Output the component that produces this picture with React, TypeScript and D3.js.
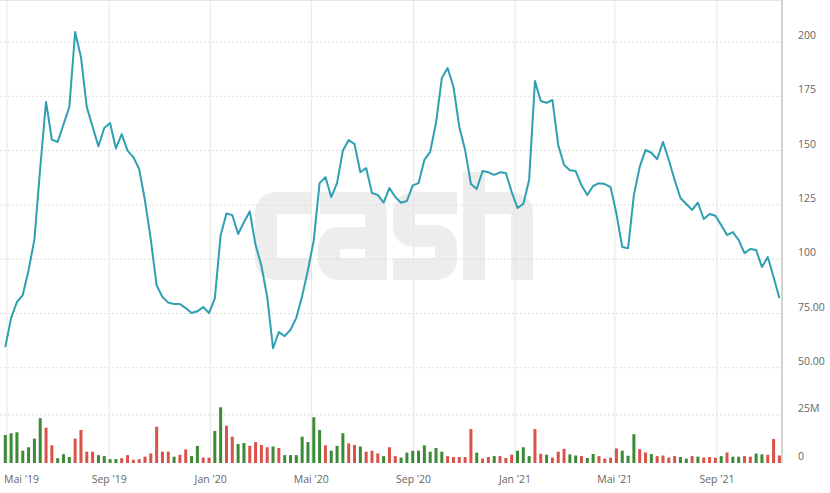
import React from 'react';
import * as d3 from 'd3';

// weekly closes, starting Monday 29 Apr 2019
const startDate = new Date(2019, 3, 29);
const endDate = new Date(2021, 10, 15);

const prices: number[] = [
  59.6, 73, 80.3, 83.5, 95, 109, 142, 172.4, 155, 154,
  162, 170, 204.6, 193, 170, 161, 152, 160.4, 162.7, 151,
  157.6, 150, 147, 141.5, 127, 109, 88, 82.6, 80, 79.4,
  79.4, 77.5, 75.2, 76, 78, 75.2, 82, 111, 121, 120.3,
  111.6, 117, 122, 106.5, 97, 82.6, 59, 66.5, 64.6, 67.5,
  73, 83, 95, 108.8, 135, 137.8, 128.6, 135, 150, 154.9,
  153, 140, 142, 130.5, 129.6, 126, 132.8, 128.6, 126, 126.8,
  134, 135, 145.7, 149.4, 162.7, 183.4, 188, 179.3, 161, 150.3,
  134.6, 132.3, 140.6, 140, 138.8, 140, 139.7, 131, 123.6, 125.4,
  136.5, 182, 172.8, 172, 173.3, 152.6, 143.4, 141, 140.6, 134,
  129.6, 133.7, 135, 134.6, 133.2, 121, 105.6, 105, 129.6, 142.5,
  150.3, 149, 146, 154, 145.7, 136.5, 128.2, 125.4, 122.7, 126,
  118.5, 120.8, 120, 115.7, 111.1, 112.5, 108.8, 102.8, 104.7, 104.2,
  96.4, 101, 91.8, 82,
];

// volume in millions
const volumes: number[] = [
  14.6, 15.5, 16, 6.4, 8.2, 12.7, 23.3, 18.4, 9.2, 2.5,
  4.6, 3.1, 12.7, 17.2, 5.9, 5.9, 4.1, 3.6, 2, 2,
  2.5, 4.1, 1.7, 2, 3.3, 5, 18.9, 5.9, 5.9, 3.3,
  4.3, 7.1, 3.6, 8.9, 2.8, 2.8, 16.7, 29, 19.4, 13.7,
  9.9, 10.4, 9, 10.9, 9.4, 8.2, 8.6, 7.8, 4.1, 4.1,
  4.1, 13.7, 10.9, 23.8, 17.2, 9.2, 6.4, 8.9, 15.5, 10.2,
  9.4, 8.6, 5.9, 6.4, 5, 3.6, 8.2, 3.6, 2.8, 5.4,
  6.4, 6.4, 9.2, 5.9, 7.8, 5.9, 3.6, 3.1, 3.1, 3.1,
  17.7, 5.4, 2.3, 3.1, 3.6, 3.6, 2.6, 4.3, 6.4, 8.2,
  3.6, 17.7, 4.8, 4.3, 2.8, 5.9, 7.4, 4.5, 3.9, 3.6,
  2.6, 4.7, 3.6, 2.3, 2.8, 7.6, 6.4, 3.8, 15, 7.2,
  5.5, 4.7, 3.6, 3.9, 2.8, 3.6, 3.1, 2.3, 3.6, 3.3,
  2.8, 3.1, 2.8, 3.6, 5.5, 3.3, 3.3, 3.6, 3.3, 4.9,
  4.5, 4.3, 12.5, 3.9,
];

// g = up week, r = down week (rows of ten, same as volumes)
const volumeColors: string[] = [
  'gggggggrrg',
  'ggrrrrgggg',
  'rrrrrrrrrg',
  'rrggrrggrr',
  'ggrrrrgrgg',
  'gggggrgggr',
  'rgrrrgrrgg',
  'ggggggrrrr',
  'rgrrgrrrgg',
  'grrgrrrggr',
  'ggrrrrgggr',
  'rgrrrrggrg',
  'rrrgrggrrg',
  'grrr',
].join('').split('');

const priceTicks = [50, 75, 100, 125, 150, 175, 200];
const priceTickLabels = ['50.00', '75.00', '100', '125', '150', '175', '200'];
const volumeTicks = [0, 25];
const volumeTickLabels = ['0', '25M'];
const monthTicks = [
  new Date(2019, 4, 1), new Date(2019, 8, 1), new Date(2020, 0, 1), new Date(2020, 4, 1),
  new Date(2020, 8, 1), new Date(2021, 0, 1), new Date(2021, 4, 1), new Date(2021, 8, 1),
];
const monthTickLabels = ["Mai '19", "Sep '19", "Jan '20", "Mai '20", "Sep '20", "Jan '21", "Mai '21", "Sep '21"];

const width = 830;
const height = 493;
const axisX = 782;
const font = '"Open Sans", "DejaVu Sans", sans-serif';

// "cash" logo watermark, drawn as thick rounded strokes
const logoStrokes = [
  'M 312 203 H 277 Q 266 203 266 214 V 258 Q 266 269 277 269 H 312',
  'M 320 203 H 365 Q 376 203 376 214 V 280',
  'M 376 238 H 340 Q 329 238 329 249 V 258 Q 329 269 340 269 H 376',
  'M 457 203 H 415 Q 404 203 404 214 V 225 Q 404 236 415 236 H 435 Q 446 236 446 247 V 258 Q 446 269 435 269 H 393',
  'M 474 172 V 280',
  'M 474 203 H 511 Q 522 203 522 214 V 280',
];

const App: React.FC = () => {
  const dates = d3.timeMonday.range(startDate, d3.timeDay.offset(endDate, 1));

  const x = d3.scaleTime().domain([startDate, endDate]).range([5.3, 779.4]);
  const y = d3.scaleLinear().domain([50, 200]).range([367.8, 42]);
  const yVol = d3.scaleLinear().domain([0, 25]).range([463, 415]);

  const line = d3
    .line<number>()
    .x((_, i) => x(dates[i]))
    .y((d) => y(d));

  return (
    <svg
      width={width}
      height={height}
      style={{ position: 'absolute', left: 0, top: 0, display: 'block', background: '#fff' }}
    >
      {/* watermark */}
      <g fill="none" stroke="#ededed" strokeWidth={22} strokeLinejoin="round">
        {logoStrokes.map((d, i) => (
          <path key={i} d={d} />
        ))}
      </g>

      {/* top border */}
      <line x1={0} x2={axisX} y1={0.5} y2={0.5} stroke="#e6e6e6" />

      {/* vertical grid */}
      {monthTicks.map((d, i) => (
        <line key={i} x1={x(d)} x2={x(d)} y1={0} y2={463} stroke="#e6e6e6" strokeWidth={1} />
      ))}

      {/* price grid */}
      {priceTicks.map((t, i) => (
        <g key={i}>
          <line x1={0} x2={axisX} y1={y(t)} y2={y(t)} stroke="#dcdcdc" strokeDasharray="2,2" />
          <text x={798} y={y(t) - 3} fontSize={10.5} fontFamily={font} fill="#666">
            {priceTickLabels[i]}
          </text>
        </g>
      ))}

      {/* volume grid */}
      {volumeTicks.map((t, i) => (
        <g key={i}>
          {t > 0 && (
            <line x1={0} x2={axisX} y1={yVol(t)} y2={yVol(t)} stroke="#dcdcdc" strokeDasharray="2,2" />
          )}
          <text x={798} y={yVol(t) - 3} fontSize={10.5} fontFamily={font} fill="#666">
            {volumeTickLabels[i]}
          </text>
        </g>
      ))}

      {/* volume bars */}
      {volumes.map((v, i) => (
        <rect
          key={i}
          x={x(dates[i]) - 1.5}
          y={yVol(v)}
          width={3}
          height={yVol(0) - yVol(v)}
          fill={volumeColors[i] === 'g' ? '#3b8a35' : '#d9534a'}
        />
      ))}

      {/* price line */}
      <path d={line(prices) ?? ''} fill="none" stroke="#2f9fb2" strokeWidth={2} strokeLinejoin="round" />

      {/* right axis line */}
      <line x1={axisX} x2={axisX} y1={0} y2={463} stroke="#c4c4c4" strokeWidth={1.5} />

      {/* month labels */}
      {monthTicks.map((d, i) => (
        <text
          key={i}
          x={i === 0 ? 4 : x(d)}
          y={483}
          textAnchor={i === 0 ? 'start' : 'middle'}
          fontSize={10.5}
          fontFamily={font}
          fill="#666"
        >
          {monthTickLabels[i]}
        </text>
      ))}
    </svg>
  );
};

export default App;
